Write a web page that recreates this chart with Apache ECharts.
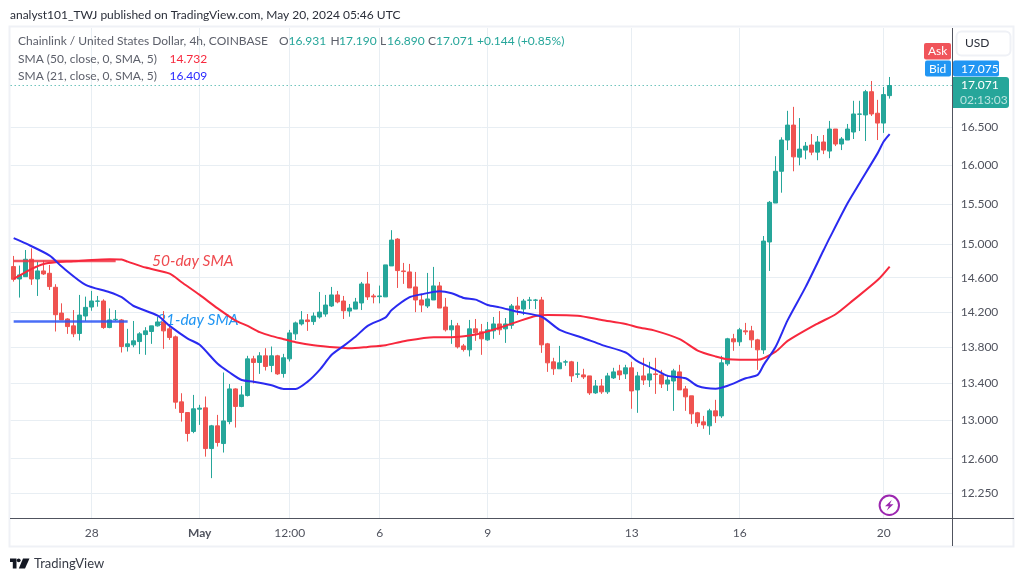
<!DOCTYPE html>
<html>
<head>
<meta charset="utf-8">
<style>html,body{margin:0;padding:0;background:#fff}#chart{width:1024px;height:581px}</style>
<script src="https://cdn.jsdelivr.net/npm/echarts@6/dist/echarts.min.js"></script>
</head>
<body>
<div id="chart"></div>
<script>
// LINK/USD 4h candles, 25 Apr 20:00 to 20 May 04:00 UTC
const opens = [14.732,14.584,14.612,14.82,14.584,14.68,14.652,14.486,14.185,14.117,14.038,13.951,14.151,14.255,14.322,14.325,14.019,14.11,14.106,13.804,13.823,13.86,13.939,13.974,14.038,14.083,14.004,13.913,13.196,13.082,12.882,13.118,13.132,12.704,12.941,12.756,12.986,13.336,13.147,13.264,13.666,13.626,13.7,13.593,13.7,13.504,13.666,13.947,14.06,14.106,14.087,14.14,14.174,14.267,14.396,14.325,14.208,14.231,14.302,14.525,14.384,14.376,14.373,14.74,15.065,14.68,14.668,14.49,14.337,14.267,14.337,14.502,14.255,13.993,14.038,13.811,13.767,14.004,13.97,13.879,13.981,14.06,14.004,14.045,14.267,14.231,14.333,14.333,14.337,13.834,13.633,13.556,13.63,13.633,13.496,13.489,13.478,13.293,13.368,13.304,13.456,13.533,13.5,13.567,13.325,13.478,13.433,13.5,13.489,13.389,13.422,13.522,13.336,13.261,13.079,12.983,12.941,13.1,13.046,13.611,13.891,13.857,13.981,13.981,13.879,13.766,15.03,15.514,15.92,16.33,16.53,16.104,16.197,16.264,16.17,16.304,16.184,16.477,16.277,16.33,16.437,16.676,16.667,16.985,16.69,16.557,16.931];
const closes = [14.58,14.632,14.82,14.584,14.68,14.644,14.494,14.166,14.106,14.03,13.947,14.162,14.251,14.325,14.325,14.019,14.106,14.113,13.804,13.834,13.868,13.947,13.981,14.038,14.083,13.981,13.906,13.193,13.082,12.861,13.122,13.129,12.704,12.941,12.767,12.993,13.336,13.147,13.271,13.666,13.626,13.7,13.582,13.7,13.5,13.678,13.958,14.072,14.106,14.087,14.151,14.196,14.278,14.396,14.314,14.212,14.243,14.314,14.525,14.373,14.373,14.384,14.752,15.053,14.684,14.672,14.478,14.337,14.278,14.349,14.502,14.243,13.993,14.038,13.8,13.77,14.004,13.959,13.891,13.993,14.06,13.993,14.06,14.267,14.231,14.325,14.337,14.337,13.823,13.622,13.556,13.622,13.633,13.478,13.5,13.467,13.293,13.368,13.304,13.478,13.522,13.489,13.567,13.314,13.478,13.433,13.5,13.493,13.389,13.433,13.533,13.325,13.25,13.068,12.972,12.951,13.1,13.046,13.622,13.891,13.857,13.993,13.97,13.879,13.767,15.041,15.523,15.92,16.33,16.53,16.108,16.21,16.25,16.17,16.304,16.197,16.477,16.277,16.344,16.477,16.68,16.68,16.985,16.68,16.557,16.945,17.071];
const lows = [14.553,14.365,14.612,14.514,14.384,14.632,14.455,13.974,14.106,13.947,13.91,13.872,14.094,14.212,14.259,14.004,14.011,14.094,13.737,13.748,13.796,13.719,13.711,13.834,14.03,13.778,13.879,13.122,12.986,12.777,12.864,12.951,12.621,12.402,12.725,12.663,12.958,12.923,13.139,13.254,13.396,13.5,13.537,13.519,13.489,13.459,13.637,13.879,14.042,13.981,14.049,14.121,14.143,14.255,14.298,14.117,14.143,14.231,14.22,14.337,14.298,14.298,14.373,14.74,14.478,14.526,14.478,14.196,14.196,14.243,14.337,14.243,13.974,13.834,13.782,13.748,13.693,13.868,13.711,13.868,13.891,13.936,13.845,14.004,14.162,14.162,14.231,14.231,13.733,13.522,13.489,13.556,13.589,13.411,13.456,13.444,13.271,13.282,13.282,13.282,13.444,13.433,13.444,13.122,13.079,13.379,13.357,13.282,13.346,13.314,13.1,13.325,13.1,12.962,12.93,12.91,12.847,12.972,13.025,13.589,13.756,13.811,13.936,13.789,13.544,13.721,14.68,15.514,15.645,16.197,15.92,15.997,16.077,16.13,16.064,16.144,16.09,16.25,16.197,16.33,16.344,16.45,16.317,16.653,16.33,16.425,16.89];
const highs = [14.86,14.744,14.932,14.952,14.792,14.804,14.752,14.522,14.298,14.125,14.22,14.396,14.376,14.443,14.384,14.345,14.239,14.22,14.117,14.004,14.094,13.966,14.023,14.038,14.143,14.208,14.03,13.928,13.289,13.082,13.271,13.164,13.254,12.951,13.057,13.515,13.389,13.343,13.368,13.7,13.7,13.741,13.785,13.804,13.711,13.722,13.992,14.087,14.208,14.174,14.192,14.431,14.396,14.49,14.443,14.384,14.29,14.361,14.549,14.668,14.408,14.506,14.752,15.175,15.077,14.776,14.764,14.668,14.396,14.656,14.728,14.549,14.361,14.106,14.072,13.833,14.106,14.117,14.06,14.083,14.14,14.208,14.128,14.29,14.373,14.349,14.373,14.349,14.373,13.845,13.678,13.811,13.655,13.644,13.633,13.556,13.478,13.433,13.444,13.511,13.567,13.6,13.6,13.633,13.522,13.678,13.633,13.678,13.544,13.489,13.556,13.6,13.368,13.261,13.089,13.046,13.122,13.218,13.7,13.902,13.947,14.015,14.072,14.038,13.891,15.103,15.54,16.117,16.367,16.723,16.777,16.625,16.304,16.41,16.384,16.397,16.586,16.477,16.37,16.545,16.86,16.86,17.01,17.134,16.873,17.05,17.19];

// Moving averages as [candle index, price] readings
const sma50 = [[0,14.584],[3,14.704],[5,14.764],[7,14.784],[10,14.796],[13,14.812],[16,14.82],[18,14.816],[19,14.792],[22,14.72],[26,14.648],[28,14.545],[31,14.396],[34,14.239],[37,14.098],[39,14.038],[41,13.966],[43,13.921],[45,13.887],[47,13.853],[50,13.819],[54,13.793],[56,13.785],[59,13.8],[62,13.819],[65,13.864],[70,13.91],[73,13.91],[76,13.928],[78,13.955],[82,14.04],[84,14.087],[87,14.151],[89,14.162],[94,14.155],[98,14.106],[102,14.06],[104,14.023],[107,13.981],[111,13.887],[114,13.759],[117,13.693],[119,13.663],[124,13.655],[127,13.747],[129,13.867],[134,14.065],[137,14.171],[140,14.338],[144,14.571],[146,14.732]];
const sma21 = [[0,15.077],[2,15.012],[6,14.864],[8,14.732],[12,14.514],[16,14.428],[18,14.369],[20,14.267],[24,14.155],[26,14.038],[29,13.894],[31,13.823],[34,13.611],[36,13.515],[38,13.433],[40,13.415],[43,13.375],[45,13.336],[47,13.336],[49,13.415],[51,13.544],[53,13.711],[55,13.811],[57,13.917],[59,14.038],[62,14.136],[63,14.22],[66,14.369],[68,14.404],[71,14.44],[73,14.416],[75,14.361],[77,14.341],[79,14.278],[81,14.251],[84,14.2],[88,14.143],[91,13.993],[95,13.898],[98,13.823],[102,13.737],[104,13.637],[107,13.544],[109,13.478],[112,13.452],[114,13.368],[117,13.339],[119,13.371],[122,13.452],[124,13.489],[125,13.599],[127,13.802],[129,14.104],[132,14.491],[135,14.932],[136,15.08],[139,15.514],[141,15.77],[144,16.157],[145,16.31],[146,16.409]];

// Hand-drawn flat lines over the start of the averages
const flatRed = [[0,14.8],[17,14.8]];
const flatBlue = [[0,14.087],[19,14.087]];

const lastPrice = 17.071;
const priceTicks = [12.25,12.6,13,13.4,13.8,14.2,14.6,15,15.5,16,16.5];
const xTickIndex = [13,31,46,61,79,103,121,145];
const xTickLabels = ['28','May','12:00','6','9','13','16','20'];

// 4h slots, with empty room to the right of the last candle
const categories = [];
for (let i = 0; i < 157; i++) {
  categories.push(new Date(Date.UTC(2024, 3, 25, 20 + i * 4)).toISOString());
}

const FONT = 'Lato, sans-serif';
const GREEN = '#26a69a', RED = '#ef5350', GRID = '#e8eef3', AXIS = '#50535e';

const candles = opens.map((o, i) => [o, closes[i], lows[i], highs[i]]);

function txt(x, y, text, fill, size, extra) {
  return {type: 'text', z: 100, silent: true,
    style: Object.assign({x, y, text, fill, font: (size || 12) + 'px ' + FONT, textVerticalAlign: 'middle'}, extra || {})};
}
function box(x, y, w, h, fill, r, stroke) {
  return {type: 'rect', z: 90, silent: true, shape: {x, y, width: w, height: h, r: r || 0},
    style: {fill, stroke: stroke || null, lineWidth: stroke ? 2 : 0}};
}
function seg(x1, y1, x2, y2, stroke, w) {
  return {type: 'line', z: 95, silent: true, shape: {x1, y1, x2, y2}, style: {stroke, lineWidth: w || 1}};
}
function poly(points, fill) {
  return {type: 'polygon', z: 100, silent: true, shape: {points}, style: {fill}};
}

const GRAY = '#5d606b';
const graphics = [
  // outer frame
  {type: 'rect', z: 0, silent: true, shape: {x: 9.5, y: 26.5, width: 1004, height: 520}, style: {fill: 'none', stroke: '#eff1f6', lineWidth: 2}},
  txt(10, 15, 'analyst101_TWJ published on TradingView.com, May 20, 2024 05:46 UTC', '#2a2e39', 12),

  txt(18, 41.5, 'Chainlink / United States Dollar, 4h, COINBASE', GRAY),
  txt(279, 41.5, 'O', GRAY), txt(288.5, 41.5, '16.931', GREEN),
  txt(330.5, 41.5, 'H', GRAY), txt(339, 41.5, '17.190', GREEN),
  txt(380, 41.5, 'L', GRAY), txt(387, 41.5, '16.890', GREEN),
  txt(428, 41.5, 'C', GRAY), txt(436, 41.5, '17.071', GREEN),
  txt(477, 41.5, '+0.144 (+0.85%)', GREEN),
  txt(18, 59, 'SMA (50, close, 0, SMA, 5)', GRAY), txt(169.5, 59, '14.732', '#f7283d'),
  txt(18, 76, 'SMA (21, close, 0, SMA, 5)', GRAY), txt(169.5, 76, '16.409', '#2a2aff'),

  txt(152, 261, '50-day SMA', '#ef4a4f', 15.5, {font: 'italic 15.5px ' + FONT}),
  Object.assign(txt(157, 320, '21-day SMA', '#2196f3', 15.5, {font: 'italic 15.5px ' + FONT}), {z: 1}),

  // price-scale furniture
  seg(10, 518.5, 1014, 518.5, AXIS, 1),
  seg(952.5, 28, 952.5, 546, AXIS, 1),
  box(956.5, 31.5, 54, 24, '#ffffff', 5, '#eff1f6'),
  txt(965, 43.5, 'USD', '#2a2e39'),
  box(924, 43, 27, 16.5, '#f0545a', 2),
  txt(928, 51.5, 'Ask', '#ffffff'),
  box(925, 60.5, 26, 16, '#2196f3', 2),
  txt(929, 69, 'Bid', '#ffffff'),
  box(953, 60.5, 46, 16, '#2196f3', 2),
  txt(961, 69, '17.075', '#ffffff'),
  box(953, 77, 56, 31, '#26a69a', [0, 3, 3, 0]),
  txt(961, 85.5, '17.071', '#ffffff'),
  txt(960, 100, '02:13:03', '#b9e3df'),

  // lightning badge
  {type: 'circle', z: 100, silent: true, shape: {cx: 889.3, cy: 505.3, r: 9.7}, style: {fill: '#fff', stroke: '#9c27b0', lineWidth: 2}},
  poly([[891.8,500],[885,506.3],[888.8,506.3],[886.8,510.5],[893.5,504.3],[889.8,504.3]], '#9c27b0'),

  // brand mark
  poly([[10,558.5],[16.5,558.5],[16.5,568.5],[12.8,568.5],[12.8,562],[10,562]], '#131722'),
  {type: 'circle', z: 100, silent: true, shape: {cx: 18.7, cy: 560.3, r: 1.9}, style: {fill: '#131722'}},
  poly([[23,558.5],[29.5,558.5],[25,568.5],[18.8,568.5]], '#131722'),
  txt(34, 563.5, 'TradingView', '#363a45', 13)
];

const chart = echarts.init(document.getElementById('chart'), null, {renderer: 'canvas'});
chart.setOption({
  animation: false,
  backgroundColor: '#ffffff',
  grid: {left: 10.67, right: 71.33, top: 28, bottom: 63},
  xAxis: {
    type: 'category',
    data: categories,
    boundaryGap: true,
    axisLine: {show: false},
    axisTick: {show: false},
    axisLabel: {
      interval: (i) => xTickIndex.indexOf(i) >= 0,
      formatter: (v, i) => {
        const s = xTickLabels[xTickIndex.indexOf(i)];
        return s === 'May' ? '{b|May}' : s;
      },
      rich: {b: {fontFamily: FONT, fontSize: 12, fontWeight: 700, color: AXIS}},
      color: AXIS, fontFamily: FONT, fontSize: 12, margin: 9, hideOverlap: false
    },
    splitLine: {show: true, alignWithLabel: true, interval: (i) => xTickIndex.indexOf(i) >= 0, lineStyle: {color: GRID, width: 1}}
  },
  yAxis: {
    type: 'log',
    logBase: 10,
    position: 'right',
    min: 12.006,
    max: 17.889,
    axisLine: {show: false},
    axisTick: {show: false, customValues: priceTicks},
    axisLabel: {
      customValues: priceTicks,
      formatter: (v) => Number(v).toFixed(3),
      color: AXIS, fontFamily: FONT, fontSize: 12, margin: 8
    },
    splitLine: {show: true, lineStyle: {color: GRID, width: 1}}
  },
  graphic: {elements: graphics},
  series: [
    {
      type: 'candlestick',
      data: candles,
      barWidth: 5,
      itemStyle: {color: GREEN, color0: RED, borderColor: GREEN, borderColor0: RED, borderWidth: 1},
      markLine: {
        silent: true, symbol: 'none', label: {show: false},
        lineStyle: {color: GREEN, type: [1, 3], width: 1},
        data: [{yAxis: lastPrice}],
        animation: false
      }
    },
    {type: 'line', data: flatRed, showSymbol: false, lineStyle: {color: '#f23645', width: 2.5, opacity: 0.85}, z: 3},
    {type: 'line', data: flatBlue, showSymbol: false, lineStyle: {color: '#2a55f5', width: 2.5, opacity: 0.85}, z: 3},
    {type: 'line', data: sma50, smooth: 0.25, showSymbol: false, lineStyle: {color: '#f7283d', width: 2}, z: 4},
    {type: 'line', data: sma21, smooth: 0.25, showSymbol: false, lineStyle: {color: '#2a2af0', width: 2}, z: 4}
  ]
});
</script>
</body>
</html>
